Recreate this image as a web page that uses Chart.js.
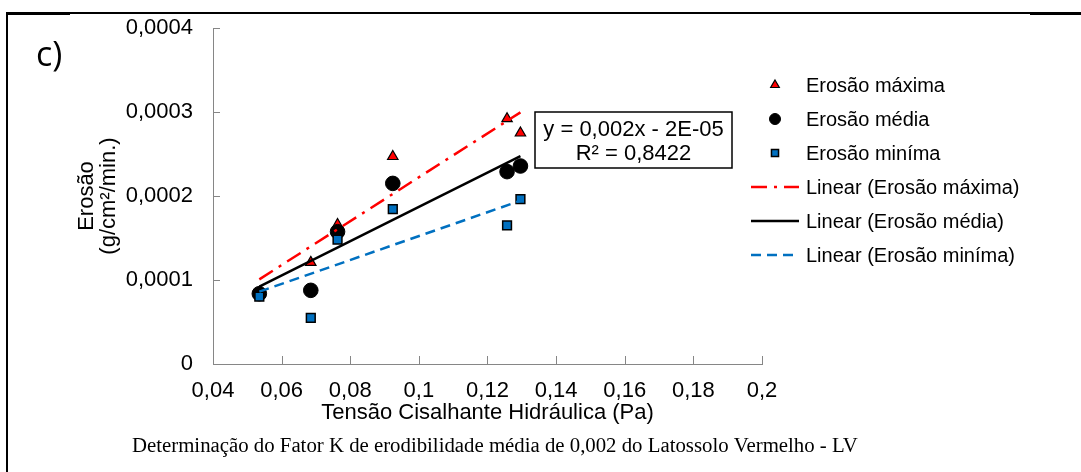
<!DOCTYPE html>
<html>
<head>
<meta charset="utf-8">
<script src="https://cdn.jsdelivr.net/npm/chart.js@4.4.0/dist/chart.umd.min.js"></script>
<style>
html,body{margin:0;padding:0;background:#fff;}
#wrap{width:1081px;height:472px;position:relative;}
</style>
</head>
<body>
<div id="wrap"><canvas id="c" width="1081" height="472"></canvas></div>
<script>
// ---- data ----
const shearStress = [0.0535, 0.0685, 0.0763, 0.0924, 0.1257, 0.1296];
const erosionMax  = [0.000085, 0.000121, 0.000166, 0.000247, 0.000292, 0.000275];
const erosionMean = [0.0000837, 0.0000877, 0.0001575, 0.000215, 0.000229, 0.0002357];
const erosionMin  = [0.0000801, 0.0000548, 0.000148, 0.0001845, 0.000165, 0.0001964];
const trendX      = [0.0535, 0.1296];
const trendMax    = [0.0001008, 0.0002996];
const trendMean   = [0.0000920, 0.0002476];
const trendMin    = [0.0000861, 0.0001944];
const xTickValues = [0.04, 0.06, 0.08, 0.10, 0.12, 0.14, 0.16, 0.18, 0.20];
const xTickLabels = ['0,04', '0,06', '0,08', '0,1', '0,12', '0,14', '0,16', '0,18', '0,2'];
const yTickValues = [0, 0.0001, 0.0002, 0.0003, 0.0004];
const yTickLabels = ['0', '0,0001', '0,0002', '0,0003', '0,0004'];
const seriesNames = ['Erosão máxima', 'Erosão média', 'Erosão miníma'];
const trendNames  = ['Linear (Erosão máxima)', 'Linear (Erosão média)', 'Linear (Erosão miníma)'];
const equationLines = ['y = 0,002x - 2E-05', 'R² = 0,8422'];
const panelLabel = 'c)';
const xTitle = 'Tensão Cisalhante Hidráulica (Pa)';
const yTitle = ['Erosão', '(g/cm²/min.)'];
const caption = 'Determinação do Fator K de erodibilidade média de 0,002 do Latossolo Vermelho - LV';

const SANS = '"Liberation Sans", Arial, sans-serif';
const toPts = (xs, ys) => xs.map((x, i) => ({x: x, y: ys[i]}));

const datasets = [
  {label: seriesNames[0], data: toPts(shearStress, erosionMax), pointStyle: 'triangle', pointRadius: 6,
   backgroundColor: '#FF0000', borderColor: '#000000', borderWidth: 1.2, showLine: false, order: 3, legendRadius: 5},
  {label: seriesNames[1], data: toPts(shearStress, erosionMean), pointStyle: 'circle', pointRadius: 7.3,
   backgroundColor: '#000000', borderColor: '#000000', borderWidth: 1, showLine: false, order: 2, legendRadius: 5.5},
  {label: seriesNames[2], data: toPts(shearStress, erosionMin), pointStyle: 'rect', pointRadius: 6.2,
   backgroundColor: '#0070C0', borderColor: '#000000', borderWidth: 1.5, showLine: false, order: 1, legendRadius: 5},
  {label: trendNames[0], data: toPts(trendX, trendMax), showLine: true, pointRadius: 0, borderColor: '#FF0000',
   backgroundColor: '#FF0000', borderWidth: 2.5, borderDash: [16, 7, 3, 7], order: 0, isLine: true},
  {label: trendNames[1], data: toPts(trendX, trendMean), showLine: true, pointRadius: 0, borderColor: '#000000',
   backgroundColor: '#000000', borderWidth: 2.5, borderDash: [], order: 0, isLine: true},
  {label: trendNames[2], data: toPts(trendX, trendMin), showLine: true, pointRadius: 0, borderColor: '#0070C0',
   backgroundColor: '#0070C0', borderWidth: 2.5, borderDash: [10, 6], order: 0, isLine: true}
];

const decor = {
  id: 'decor',
  afterDraw(chart) {
    const ctx = chart.ctx;
    const ca = chart.chartArea;
    const xs = chart.scales.x, ys = chart.scales.y;
    ctx.save();
    // inward tick marks
    ctx.strokeStyle = '#868686';
    ctx.lineWidth = 1;
    ctx.beginPath();
    yTickValues.forEach(v => {
      const py = Math.round(ys.getPixelForValue(v)) + 0.5;
      ctx.moveTo(ca.left, py); ctx.lineTo(ca.left + 7, py);
    });
    xTickValues.forEach(v => {
      const px = Math.round(xs.getPixelForValue(v)) + 0.5;
      ctx.moveTo(px, ca.bottom); ctx.lineTo(px, ca.bottom - 8);
    });
    ctx.stroke();

    // legend
    const rowY0 = ca.top + 57, rowStep = 34;
    ctx.font = '20px ' + SANS;
    ctx.textBaseline = 'middle';
    ctx.textAlign = 'left';
    datasets.forEach((ds, i) => {
      const y = rowY0 + i * rowStep;
      if (ds.isLine) {
        ctx.save();
        ctx.strokeStyle = ds.borderColor;
        ctx.lineWidth = ds.borderWidth;
        ctx.setLineDash(ds.borderDash);
        ctx.beginPath();
        ctx.moveTo(ca.right - 11, y); ctx.lineTo(ca.right + 37, y);
        ctx.stroke();
        ctx.restore();
      } else {
        ctx.save();
        ctx.fillStyle = ds.backgroundColor;
        ctx.strokeStyle = ds.borderColor;
        ctx.lineWidth = ds.borderWidth;
        Chart.helpers.drawPoint(ctx, {pointStyle: ds.pointStyle, radius: ds.legendRadius, borderWidth: ds.borderWidth, rotation: 0},
          ca.right + 13, y);
        ctx.restore();
      }
      ctx.fillStyle = '#000';
      ctx.fillText(ds.label, ca.right + 44, y + 1);
    });

    // equation box
    const bx = ca.left + 322, by = ca.top + 84, bw = 197, bh = 56;
    ctx.fillStyle = '#fff';
    ctx.fillRect(bx, by, bw, bh);
    ctx.strokeStyle = '#000';
    ctx.lineWidth = 1.5;
    ctx.strokeRect(bx, by, bw, bh);
    ctx.fillStyle = '#000';
    ctx.font = '22px ' + SANS;
    ctx.textAlign = 'center';
    ctx.fillText(equationLines[0], bx + bw / 2, by + 18);
    ctx.fillText(equationLines[1], bx + bw / 2, by + 42);

    // panel label
    ctx.font = '34px "Open Sans", sans-serif';
    ctx.textAlign = 'left';
    ctx.textBaseline = 'alphabetic';
    ctx.fillText(panelLabel, 36, 66);

    // caption
    ctx.font = '20.8px "Liberation Serif", "Times New Roman", serif';
    ctx.textAlign = 'left';
    ctx.textBaseline = 'middle';
    ctx.fillText(caption, 132, 447);

    // frame
    ctx.fillStyle = '#000';
    ctx.fillRect(6, 12, 1075, 2);
    ctx.fillRect(6, 12, 64, 3);
    ctx.fillRect(1030, 12, 51, 3);
    ctx.fillRect(6, 12, 2, 460);
    ctx.restore();
  }
};

new Chart(document.getElementById('c'), {
  type: 'scatter',
  data: {datasets: datasets},
  options: {
    responsive: false,
    animation: false,
    devicePixelRatio: 1,
    layout: {padding: {top: 28, right: 319, bottom: 41, left: 0}},
    plugins: {legend: {display: false}, tooltip: {enabled: false}, title: {display: false}},
    scales: {
      x: {
        type: 'linear', min: 0.04, max: 0.2,
        afterBuildTicks: s => { s.ticks = xTickValues.map(v => ({value: v})); },
        afterFit: s => { s.height = 67; s.paddingLeft = 0; s.paddingRight = 0; },
        ticks: {callback: (v, i) => xTickLabels[i], color: '#000', font: {family: SANS, size: 22}, padding: 14, maxRotation: 0, autoSkip: false},
        grid: {display: false, drawTicks: false},
        border: {display: true, color: '#868686', width: 1},
        title: {display: true, text: xTitle, color: '#000', font: {family: SANS, size: 22, lineHeight: 1.2}, padding: {top: 0, bottom: 5}}
      },
      y: {
        type: 'linear', min: 0, max: 0.0004,
        afterBuildTicks: s => { s.ticks = yTickValues.map(v => ({value: v})); },
        afterFit: s => { s.width = 213; s.paddingTop = 0; s.paddingBottom = 0; },
        ticks: {callback: (v, i) => yTickLabels[i], color: '#000', font: {family: SANS, size: 22}, padding: 20, autoSkip: false},
        grid: {display: false, drawTicks: false},
        border: {display: true, color: '#868686', width: 1},
        title: {display: true, text: yTitle, color: '#000', font: {family: SANS, size: 22, lineHeight: 1.0}, padding: {top: 76, bottom: 0}}
      }
    }
  },
  plugins: [decor]
});
</script>
</body>
</html>
